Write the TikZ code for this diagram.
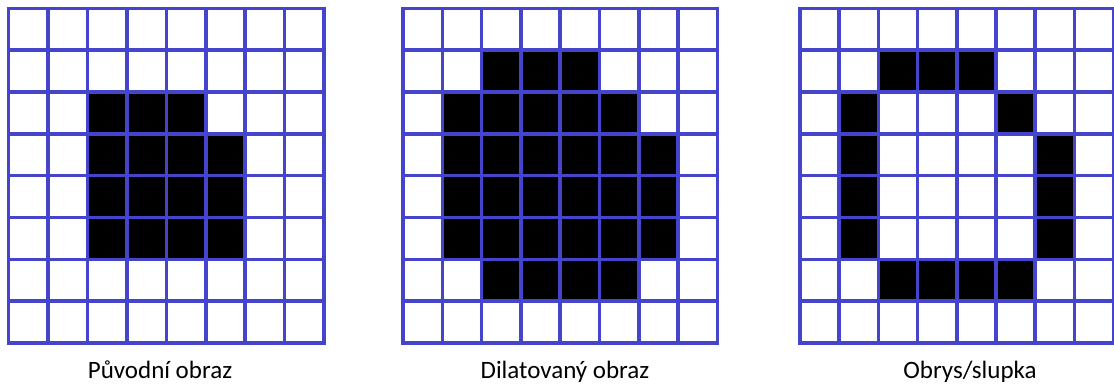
\documentclass[tikz,border=0pt]{standalone}
\usepackage{fontspec}
\setmainfont{Carlito}
\usepackage{xcolor}
\usetikzlibrary{positioning}
\definecolor{gridblue}{RGB}{68,68,204}
\tikzset{
    pixel/.style={fill=black},
    gridline/.style={draw=gridblue, line width=3.6pt, line cap=rect},
    caption/.style={anchor=base, inner sep=0pt, font=\fontsize{25}{30}\selectfont}
}
\newcommand{\pixgridlines}{%
    \foreach \i in {0,...,8} {
        \draw[gridline] (\i,0) -- (\i,8);
        \draw[gridline] (0,\i) -- (8,\i);
    }%
}

\begin{document}
\begin{tikzpicture}[x=1pt,y=-1pt]
\useasboundingbox[fill=white] (0,0) rectangle (1114,385);

% original image
\begin{scope}[shift={(8.5,8.5)}, x=39.45pt, y=-41.8pt]
    \fill[pixel] (2,2) rectangle (5,3);
    \fill[pixel] (2,3) rectangle (6,6);
    \pixgridlines
\end{scope}

% dilated image
\begin{scope}[shift={(403,8.5)}, x=39.3pt, y=-41.8pt]
    \fill[pixel] (2,1) rectangle (5,2);
    \fill[pixel] (1,2) rectangle (6,3);
    \fill[pixel] (1,3) rectangle (7,6);
    \fill[pixel] (2,6) rectangle (6,7);
    \pixgridlines
\end{scope}

% outline
\begin{scope}[shift={(800,8.5)}, x=39.2pt, y=-41.8pt]
    \fill[pixel] (2,1) rectangle (5,2);
    \fill[pixel] (1,2) rectangle (2,3);
    \fill[pixel] (5,2) rectangle (6,3);
    \fill[pixel] (1,3) rectangle (2,6);
    \fill[pixel] (6,3) rectangle (7,6);
    \fill[pixel] (2,6) rectangle (6,7);
    \pixgridlines
\end{scope}

\node[caption] (orig)    at (160,378.5) {Původní obraz};
\node[caption] (dilated) at (565,378.5) {Dilatovaný obraz};
\node[caption] (outline) at (970,378.5) {Obrys/slupka};
\end{tikzpicture}
\end{document}
